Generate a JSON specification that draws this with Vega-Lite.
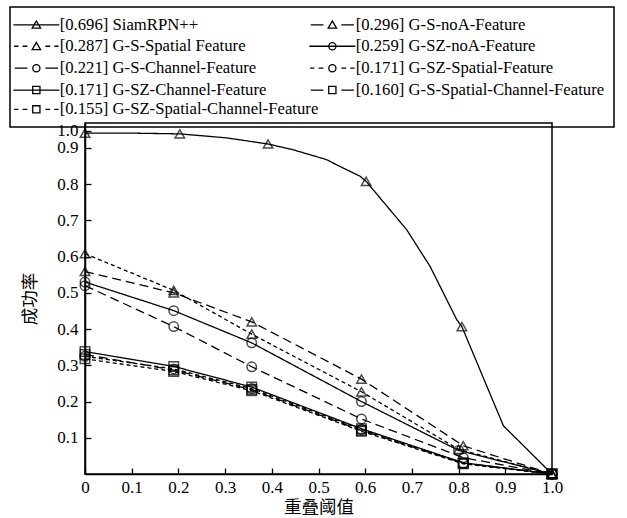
{
  "$schema": "https://vega.github.io/schema/vega-lite/v6.json",
  "width": 467,
  "height": 351,
  "autosize": "none",
  "padding": {"left": 85, "top": 123, "right": 75, "bottom": 44},
  "background": "white",
  "config": {
    "view": {"stroke": "black", "strokeWidth": 1.5},
    "axis": {
      "domainColor": "black", "domainWidth": 1.5, "tickColor": "black", "tickWidth": 1.3,
      "labelFont": "Liberation Serif", "labelFontSize": 17, "labelColor": "black", "labelFlush": false,
      "titleFont": "Noto Sans CJK SC", "titleFontSize": 17.5, "titleFontWeight": "normal", "titleColor": "black",
      "grid": false, "labelOverlap": false
    },
    "legend": {
      "labelFont": "Liberation Serif", "labelFontSize": 16.7, "labelColor": "black", "labelLimit": 400,
      "symbolStrokeColor": "black", "symbolStrokeWidth": 1.3, "symbolFillColor": "transparent", "symbolOpacity": 1,
      "strokeWidth": 1.5
    }
  },
  "datasets": {
    "curves": [
      {"series": "[0.696] SiamRPN++", "x": 0, "y": 0.941},
      {"series": "[0.696] SiamRPN++", "x": 0.1, "y": 0.941},
      {"series": "[0.696] SiamRPN++", "x": 0.203, "y": 0.939},
      {"series": "[0.696] SiamRPN++", "x": 0.303, "y": 0.928},
      {"series": "[0.696] SiamRPN++", "x": 0.392, "y": 0.911},
      {"series": "[0.696] SiamRPN++", "x": 0.446, "y": 0.895},
      {"series": "[0.696] SiamRPN++", "x": 0.517, "y": 0.868},
      {"series": "[0.696] SiamRPN++", "x": 0.546, "y": 0.849},
      {"series": "[0.696] SiamRPN++", "x": 0.589, "y": 0.822},
      {"series": "[0.696] SiamRPN++", "x": 0.602, "y": 0.808},
      {"series": "[0.696] SiamRPN++", "x": 0.689, "y": 0.674},
      {"series": "[0.696] SiamRPN++", "x": 0.739, "y": 0.573},
      {"series": "[0.696] SiamRPN++", "x": 0.796, "y": 0.426},
      {"series": "[0.696] SiamRPN++", "x": 0.807, "y": 0.407},
      {"series": "[0.696] SiamRPN++", "x": 0.896, "y": 0.133},
      {"series": "[0.696] SiamRPN++", "x": 1.0, "y": 0},
      {"series": "[0.296] G-S-noA-Feature", "x": 0, "y": 0.559},
      {"series": "[0.296] G-S-noA-Feature", "x": 0.19, "y": 0.5},
      {"series": "[0.296] G-S-noA-Feature", "x": 0.357, "y": 0.42},
      {"series": "[0.296] G-S-noA-Feature", "x": 0.592, "y": 0.262},
      {"series": "[0.296] G-S-noA-Feature", "x": 0.81, "y": 0.078},
      {"series": "[0.296] G-S-noA-Feature", "x": 1.0, "y": 0},
      {"series": "[0.287] G-S-Spatial Feature", "x": 0, "y": 0.608},
      {"series": "[0.287] G-S-Spatial Feature", "x": 0.19, "y": 0.507},
      {"series": "[0.287] G-S-Spatial Feature", "x": 0.357, "y": 0.386},
      {"series": "[0.287] G-S-Spatial Feature", "x": 0.592, "y": 0.227},
      {"series": "[0.287] G-S-Spatial Feature", "x": 0.8, "y": 0.068},
      {"series": "[0.287] G-S-Spatial Feature", "x": 1.0, "y": 0},
      {"series": "[0.259] G-SZ-noA-Feature", "x": 0, "y": 0.53},
      {"series": "[0.259] G-SZ-noA-Feature", "x": 0.19, "y": 0.451},
      {"series": "[0.259] G-SZ-noA-Feature", "x": 0.357, "y": 0.362},
      {"series": "[0.259] G-SZ-noA-Feature", "x": 0.592, "y": 0.2},
      {"series": "[0.259] G-SZ-noA-Feature", "x": 0.8, "y": 0.065},
      {"series": "[0.259] G-SZ-noA-Feature", "x": 1.0, "y": 0},
      {"series": "[0.221] G-S-Channel-Feature", "x": 0, "y": 0.52},
      {"series": "[0.221] G-S-Channel-Feature", "x": 0.19, "y": 0.407},
      {"series": "[0.221] G-S-Channel-Feature", "x": 0.357, "y": 0.296},
      {"series": "[0.221] G-S-Channel-Feature", "x": 0.592, "y": 0.152},
      {"series": "[0.221] G-S-Channel-Feature", "x": 0.81, "y": 0.045},
      {"series": "[0.221] G-S-Channel-Feature", "x": 1.0, "y": 0},
      {"series": "[0.171] G-SZ-Spatial-Feature", "x": 0, "y": 0.325},
      {"series": "[0.171] G-SZ-Spatial-Feature", "x": 0.19, "y": 0.29},
      {"series": "[0.171] G-SZ-Spatial-Feature", "x": 0.357, "y": 0.236},
      {"series": "[0.171] G-SZ-Spatial-Feature", "x": 0.592, "y": 0.123},
      {"series": "[0.171] G-SZ-Spatial-Feature", "x": 0.81, "y": 0.03},
      {"series": "[0.171] G-SZ-Spatial-Feature", "x": 1.0, "y": 0},
      {"series": "[0.171] G-SZ-Channel-Feature", "x": 0, "y": 0.338},
      {"series": "[0.171] G-SZ-Channel-Feature", "x": 0.19, "y": 0.297},
      {"series": "[0.171] G-SZ-Channel-Feature", "x": 0.357, "y": 0.24},
      {"series": "[0.171] G-SZ-Channel-Feature", "x": 0.592, "y": 0.125},
      {"series": "[0.171] G-SZ-Channel-Feature", "x": 0.81, "y": 0.031},
      {"series": "[0.171] G-SZ-Channel-Feature", "x": 1.0, "y": 0},
      {"series": "[0.160] G-S-Spatial-Channel-Feature", "x": 0, "y": 0.33},
      {"series": "[0.160] G-S-Spatial-Channel-Feature", "x": 0.19, "y": 0.287},
      {"series": "[0.160] G-S-Spatial-Channel-Feature", "x": 0.357, "y": 0.233},
      {"series": "[0.160] G-S-Spatial-Channel-Feature", "x": 0.592, "y": 0.12},
      {"series": "[0.160] G-S-Spatial-Channel-Feature", "x": 0.81, "y": 0.03},
      {"series": "[0.160] G-S-Spatial-Channel-Feature", "x": 1.0, "y": 0},
      {"series": "[0.155] G-SZ-Spatial-Channel-Feature", "x": 0, "y": 0.318},
      {"series": "[0.155] G-SZ-Spatial-Channel-Feature", "x": 0.19, "y": 0.283},
      {"series": "[0.155] G-SZ-Spatial-Channel-Feature", "x": 0.357, "y": 0.23},
      {"series": "[0.155] G-SZ-Spatial-Channel-Feature", "x": 0.592, "y": 0.118},
      {"series": "[0.155] G-SZ-Spatial-Channel-Feature", "x": 0.81, "y": 0.028},
      {"series": "[0.155] G-SZ-Spatial-Channel-Feature", "x": 1.0, "y": 0}
    ],
    "markers": [
      {"series": "[0.696] SiamRPN++", "x": 0, "y": 0.941},
      {"series": "[0.696] SiamRPN++", "x": 0.203, "y": 0.939},
      {"series": "[0.696] SiamRPN++", "x": 0.392, "y": 0.911},
      {"series": "[0.696] SiamRPN++", "x": 0.602, "y": 0.808},
      {"series": "[0.696] SiamRPN++", "x": 0.807, "y": 0.407},
      {"series": "[0.696] SiamRPN++", "x": 1.0, "y": 0},
      {"series": "[0.296] G-S-noA-Feature", "x": 0, "y": 0.559},
      {"series": "[0.296] G-S-noA-Feature", "x": 0.19, "y": 0.5},
      {"series": "[0.296] G-S-noA-Feature", "x": 0.357, "y": 0.42},
      {"series": "[0.296] G-S-noA-Feature", "x": 0.592, "y": 0.262},
      {"series": "[0.296] G-S-noA-Feature", "x": 0.81, "y": 0.078},
      {"series": "[0.296] G-S-noA-Feature", "x": 1.0, "y": 0},
      {"series": "[0.287] G-S-Spatial Feature", "x": 0, "y": 0.608},
      {"series": "[0.287] G-S-Spatial Feature", "x": 0.19, "y": 0.507},
      {"series": "[0.287] G-S-Spatial Feature", "x": 0.357, "y": 0.386},
      {"series": "[0.287] G-S-Spatial Feature", "x": 0.592, "y": 0.227},
      {"series": "[0.287] G-S-Spatial Feature", "x": 0.8, "y": 0.068},
      {"series": "[0.287] G-S-Spatial Feature", "x": 1.0, "y": 0},
      {"series": "[0.259] G-SZ-noA-Feature", "x": 0, "y": 0.53},
      {"series": "[0.259] G-SZ-noA-Feature", "x": 0.19, "y": 0.451},
      {"series": "[0.259] G-SZ-noA-Feature", "x": 0.357, "y": 0.362},
      {"series": "[0.259] G-SZ-noA-Feature", "x": 0.592, "y": 0.2},
      {"series": "[0.259] G-SZ-noA-Feature", "x": 0.8, "y": 0.065},
      {"series": "[0.259] G-SZ-noA-Feature", "x": 1.0, "y": 0},
      {"series": "[0.221] G-S-Channel-Feature", "x": 0, "y": 0.52},
      {"series": "[0.221] G-S-Channel-Feature", "x": 0.19, "y": 0.407},
      {"series": "[0.221] G-S-Channel-Feature", "x": 0.357, "y": 0.296},
      {"series": "[0.221] G-S-Channel-Feature", "x": 0.592, "y": 0.152},
      {"series": "[0.221] G-S-Channel-Feature", "x": 0.81, "y": 0.045},
      {"series": "[0.221] G-S-Channel-Feature", "x": 1.0, "y": 0},
      {"series": "[0.171] G-SZ-Spatial-Feature", "x": 0, "y": 0.325},
      {"series": "[0.171] G-SZ-Spatial-Feature", "x": 0.19, "y": 0.29},
      {"series": "[0.171] G-SZ-Spatial-Feature", "x": 0.357, "y": 0.236},
      {"series": "[0.171] G-SZ-Spatial-Feature", "x": 0.592, "y": 0.123},
      {"series": "[0.171] G-SZ-Spatial-Feature", "x": 0.81, "y": 0.03},
      {"series": "[0.171] G-SZ-Spatial-Feature", "x": 1.0, "y": 0},
      {"series": "[0.171] G-SZ-Channel-Feature", "x": 0, "y": 0.338},
      {"series": "[0.171] G-SZ-Channel-Feature", "x": 0.19, "y": 0.297},
      {"series": "[0.171] G-SZ-Channel-Feature", "x": 0.357, "y": 0.24},
      {"series": "[0.171] G-SZ-Channel-Feature", "x": 0.592, "y": 0.125},
      {"series": "[0.171] G-SZ-Channel-Feature", "x": 0.81, "y": 0.031},
      {"series": "[0.171] G-SZ-Channel-Feature", "x": 1.0, "y": 0},
      {"series": "[0.160] G-S-Spatial-Channel-Feature", "x": 0, "y": 0.33},
      {"series": "[0.160] G-S-Spatial-Channel-Feature", "x": 0.19, "y": 0.287},
      {"series": "[0.160] G-S-Spatial-Channel-Feature", "x": 0.357, "y": 0.233},
      {"series": "[0.160] G-S-Spatial-Channel-Feature", "x": 0.592, "y": 0.12},
      {"series": "[0.160] G-S-Spatial-Channel-Feature", "x": 0.81, "y": 0.03},
      {"series": "[0.160] G-S-Spatial-Channel-Feature", "x": 1.0, "y": 0},
      {"series": "[0.155] G-SZ-Spatial-Channel-Feature", "x": 0, "y": 0.318},
      {"series": "[0.155] G-SZ-Spatial-Channel-Feature", "x": 0.19, "y": 0.283},
      {"series": "[0.155] G-SZ-Spatial-Channel-Feature", "x": 0.357, "y": 0.23},
      {"series": "[0.155] G-SZ-Spatial-Channel-Feature", "x": 0.592, "y": 0.118},
      {"series": "[0.155] G-SZ-Spatial-Channel-Feature", "x": 0.81, "y": 0.028},
      {"series": "[0.155] G-SZ-Spatial-Channel-Feature", "x": 1.0, "y": 0}
    ]
  },
  "layer": [
    {
      "data": {"name": "curves"},
      "mark": {"type": "line", "strokeWidth": 1.3, "color": "black"},
      "encoding": {
        "x": {"field": "x", "type": "quantitative", "scale": {"domain": [0, 1], "nice": false},
          "axis": {"title": "重叠阈值", "values": [0, 0.1, 0.2, 0.3, 0.4, 0.5, 0.6, 0.7, 0.8, 0.9, 1.0],
            "labelExpr": "datum.value == 0 ? '0' : format(datum.value, '.1f')", "tickSize": -6, "labelPadding": 11, "titlePadding": 3}},
        "y": {"field": "y", "type": "quantitative", "scale": {"domain": [0, 0.969], "nice": false, "zero": true},
          "axis": {"title": "成功率", "values": [0.1, 0.2, 0.3, 0.4, 0.5, 0.6, 0.7, 0.8, 0.9, 0.948],
            "labelExpr": "datum.value > 0.93 ? '1.0' : format(datum.value, '.1f')", "tickSize": -6, "labelPadding": 13, "titlePadding": 17}},
        "detail": {"field": "series"},
        "strokeDash": {"field": "series", "type": "nominal",
          "scale": {"domain": ["[0.696] SiamRPN++", "[0.296] G-S-noA-Feature", "[0.287] G-S-Spatial Feature", "[0.259] G-SZ-noA-Feature", "[0.221] G-S-Channel-Feature", "[0.171] G-SZ-Spatial-Feature", "[0.171] G-SZ-Channel-Feature", "[0.160] G-S-Spatial-Channel-Feature", "[0.155] G-SZ-Spatial-Channel-Feature"],
            "range": [[1, 0], [9, 5], [4, 3], [1, 0], [9, 5], [4, 3], [1, 0], [9, 5], [4, 3]]},
          "legend": null}
      }
    },
    {
      "data": {"name": "markers"},
      "mark": {"type": "point", "filled": false, "color": "black", "strokeWidth": 1.5, "size": 90},
      "encoding": {
        "x": {"field": "x", "type": "quantitative", "scale": {"domain": [0, 1], "nice": false},
          "axis": {"title": "重叠阈值", "values": [0, 0.1, 0.2, 0.3, 0.4, 0.5, 0.6, 0.7, 0.8, 0.9, 1.0],
            "labelExpr": "datum.value == 0 ? '0' : format(datum.value, '.1f')", "tickSize": -6, "labelPadding": 11, "titlePadding": 3}},
        "y": {"field": "y", "type": "quantitative", "scale": {"domain": [0, 0.969], "nice": false, "zero": true},
          "axis": {"title": "成功率", "values": [0.1, 0.2, 0.3, 0.4, 0.5, 0.6, 0.7, 0.8, 0.9, 0.948],
            "labelExpr": "datum.value > 0.93 ? '1.0' : format(datum.value, '.1f')", "tickSize": -6, "labelPadding": 13, "titlePadding": 17}},
        "shape": {"field": "series", "type": "nominal",
          "scale": {"domain": ["[0.696] SiamRPN++", "[0.296] G-S-noA-Feature", "[0.287] G-S-Spatial Feature", "[0.259] G-SZ-noA-Feature", "[0.221] G-S-Channel-Feature", "[0.171] G-SZ-Spatial-Feature", "[0.171] G-SZ-Channel-Feature", "[0.160] G-S-Spatial-Channel-Feature", "[0.155] G-SZ-Spatial-Channel-Feature"],
            "range": ["triangle-up", "triangle-up", "triangle-up", "circle", "circle", "circle", "square", "square", "square"]},
          "legend": null}
      }
    },
    {
      "data": {"name": "markers"},
      "transform": [{"filter": {"field": "series", "oneOf": ["[0.696] SiamRPN++", "[0.296] G-S-noA-Feature", "[0.287] G-S-Spatial Feature", "[0.259] G-SZ-noA-Feature", "[0.221] G-S-Channel-Feature", "[0.171] G-SZ-Spatial-Feature", "[0.171] G-SZ-Channel-Feature", "[0.160] G-S-Spatial-Channel-Feature"]}}],
      "mark": {"type": "point", "filled": false, "color": "black", "opacity": 0},
      "encoding": {
        "x": {"field": "x", "type": "quantitative", "scale": {"domain": [0, 1], "nice": false},
          "axis": {"title": "重叠阈值", "values": [0, 0.1, 0.2, 0.3, 0.4, 0.5, 0.6, 0.7, 0.8, 0.9, 1.0],
            "labelExpr": "datum.value == 0 ? '0' : format(datum.value, '.1f')", "tickSize": -6, "labelPadding": 11, "titlePadding": 3}},
        "y": {"field": "y", "type": "quantitative", "scale": {"domain": [0, 0.969], "nice": false, "zero": true},
          "axis": {"title": "成功率", "values": [0.1, 0.2, 0.3, 0.4, 0.5, 0.6, 0.7, 0.8, 0.9, 0.948],
            "labelExpr": "datum.value > 0.93 ? '1.0' : format(datum.value, '.1f')", "tickSize": -6, "labelPadding": 13, "titlePadding": 17}},
        "shape": {"field": "series", "type": "nominal",
          "scale": {"domain": ["[0.696] SiamRPN++", "[0.287] G-S-Spatial Feature", "[0.221] G-S-Channel-Feature", "[0.171] G-SZ-Channel-Feature", "[0.296] G-S-noA-Feature", "[0.259] G-SZ-noA-Feature", "[0.171] G-SZ-Spatial-Feature", "[0.160] G-S-Spatial-Channel-Feature"],
            "range": [
              "M-3.83,0H3.83M-0.7,0.55L0,-0.65L0.7,0.55Z",
              "M-3.7,0H-3M-2.3,0H-1.5M1.5,0H2.3M3,0H3.7M-0.7,0.55L0,-0.65L0.7,0.55Z",
              "M-3.6,0H-1.5M1.5,0H3.6M-0.6,0A0.6,0.6,0,1,1,0.6,0A0.6,0.6,0,1,1,-0.6,0Z",
              "M-3.83,0H3.83M-0.6,-0.6H0.6V0.6H-0.6Z",
              "M-3.6,0H-1.5M1.5,0H3.6M-0.7,0.55L0,-0.65L0.7,0.55Z",
              "M-3.83,0H3.83M-0.6,0A0.6,0.6,0,1,1,0.6,0A0.6,0.6,0,1,1,-0.6,0Z",
              "M-3.7,0H-3M-2.3,0H-1.5M1.5,0H2.3M3,0H3.7M-0.6,0A0.6,0.6,0,1,1,0.6,0A0.6,0.6,0,1,1,-0.6,0Z",
              "M-3.6,0H-1.5M1.5,0H3.6M-0.6,-0.6H0.6V0.6H-0.6Z"
            ]},
          "legend": {"orient": "none", "legendX": -75, "legendY": -116, "columns": 2, "columnPadding": 39, "rowPadding": 3.9,
            "padding": 9, "strokeColor": "black", "symbolSize": 144, "symbolOffset": 9, "labelOffset": 15,
            "symbolOpacity": 1, "title": " ", "titleOrient": "bottom", "titleFontSize": 17, "titlePadding": 3}}
      }
    },
    {
      "data": {"name": "markers"},
      "transform": [{"filter": {"field": "series", "oneOf": ["[0.155] G-SZ-Spatial-Channel-Feature"]}}],
      "mark": {"type": "point", "filled": false, "color": "black", "opacity": 0},
      "encoding": {
        "x": {"field": "x", "type": "quantitative", "scale": {"domain": [0, 1], "nice": false},
          "axis": {"title": "重叠阈值", "values": [0, 0.1, 0.2, 0.3, 0.4, 0.5, 0.6, 0.7, 0.8, 0.9, 1.0],
            "labelExpr": "datum.value == 0 ? '0' : format(datum.value, '.1f')", "tickSize": -6, "labelPadding": 11, "titlePadding": 3}},
        "y": {"field": "y", "type": "quantitative", "scale": {"domain": [0, 0.969], "nice": false, "zero": true},
          "axis": {"title": "成功率", "values": [0.1, 0.2, 0.3, 0.4, 0.5, 0.6, 0.7, 0.8, 0.9, 0.948],
            "labelExpr": "datum.value > 0.93 ? '1.0' : format(datum.value, '.1f')", "tickSize": -6, "labelPadding": 13, "titlePadding": 17}},
        "shape": {"field": "series", "type": "nominal",
          "scale": {"domain": ["[0.155] G-SZ-Spatial-Channel-Feature"],
            "range": ["M-3.7,0H-3M-2.3,0H-1.5M1.5,0H2.3M3,0H3.7M-0.6,-0.6H0.6V0.6H-0.6Z"]},
          "legend": {"orient": "none", "legendX": -75, "legendY": -31, "padding": 9, "symbolSize": 144, "symbolOffset": 9, "labelOffset": 15,
            "symbolOpacity": 1, "title": null}}
      }
    }
  ],
  "resolve": {"scale": {"shape": "independent"}, "legend": {"shape": "independent"}}
}
